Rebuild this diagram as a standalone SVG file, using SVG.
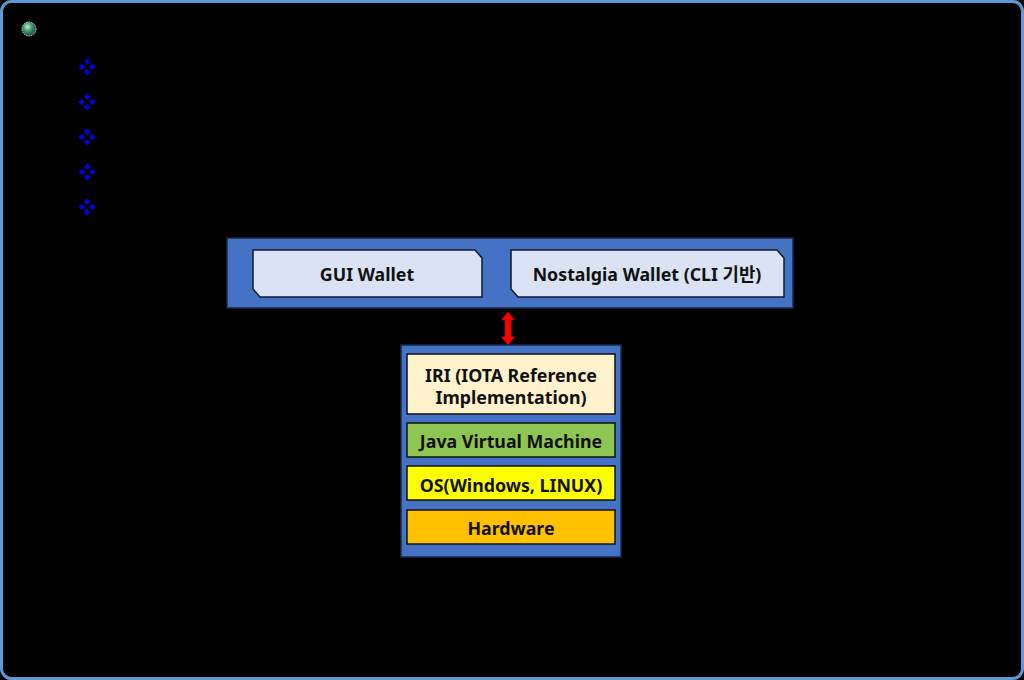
<svg xmlns="http://www.w3.org/2000/svg" width="1024" height="680" viewBox="0 0 1024 680">
<defs>
<style>
.lbl{font-family:"Noto Sans","Noto Sans CJK KR",sans-serif;font-weight:bold;font-size:17.8px;fill:#111;text-anchor:middle;dominant-baseline:central}
.panel{fill:#4472C4;stroke:#1a2a4a;stroke-width:1.5}
.wallet{fill:#DAE3F3;stroke:#0f1a30;stroke-width:1.5}
.layer{stroke:#111;stroke-width:1.5}
.dia{fill:#0000E0}
</style>
<radialGradient id="ball" cx="0.4" cy="0.35" r="0.7">
<stop offset="0" stop-color="#b8f0d0"/>
<stop offset="0.5" stop-color="#3a8a6a"/>
<stop offset="1" stop-color="#1d4a38"/>
</radialGradient>
<g id="fd">
<polygon class="dia" points="0,-8.5 3.2,-5.3 0,-2.1 -3.2,-5.3"/>
<polygon class="dia" points="0,8.5 3.2,5.3 0,2.1 -3.2,5.3"/>
<polygon class="dia" points="-8.5,0 -5.3,-3.2 -2.1,0 -5.3,3.2"/>
<polygon class="dia" points="8.5,0 5.3,-3.2 2.1,0 5.3,3.2"/>
</g>
</defs>
<rect x="0" y="0" width="1024" height="680" fill="#000"/>
<rect x="1.5" y="1.5" width="1021" height="677" rx="10" fill="#000" stroke="#5B9BD5" stroke-width="3"/>
<g id="bullets">
<circle cx="29" cy="29" r="7" fill="url(#ball)" stroke="#cfd8c8" stroke-width="1" stroke-dasharray="1.5 1"/>
<use href="#fd" x="87" y="67"/>
<use href="#fd" x="87" y="102"/>
<use href="#fd" x="87" y="137"/>
<use href="#fd" x="87" y="172"/>
<use href="#fd" x="87" y="207"/>
</g>
<g id="wallet-panel">
<rect class="panel" x="227" y="238" width="566" height="70"/>
</g>
<g id="gui-wallet">
<polygon class="wallet" points="253,250 475,250 482,258 482,297 260,297 253,289"/>
<text class="lbl" x="367" y="274">GUI Wallet</text>
</g>
<g id="nostalgia-wallet">
<polygon class="wallet" points="511,250 777,250 784,258 784,297 518,297 511,289"/>
<text class="lbl" x="647" y="274">Nostalgia Wallet (CLI 기반)</text>
</g>
<g id="connectors">
<polygon points="508,312 514.5,320 511,320 511,337 514.5,337 508,345 501.5,337 505,337 505,320 501.5,320" fill="#FF0000" stroke="#c00000" stroke-width="0.5"/>
</g>
<g id="stack-panel">
<rect class="panel" x="401" y="345" width="220" height="212"/>
</g>
<g id="iri">
<rect class="layer" x="407" y="354" width="208" height="60" fill="#FFF2CC"/>
<text class="lbl" x="511" y="375">IRI (IOTA Reference</text>
<text class="lbl" x="511" y="397">Implementation)</text>
</g>
<g id="jvm">
<rect class="layer" x="407" y="423" width="208" height="34" fill="#8FC651"/>
<text class="lbl" x="511" y="441">Java Virtual Machine</text>
</g>
<g id="os">
<rect class="layer" x="407" y="466" width="208" height="34" fill="#FFFF00"/>
<text class="lbl" x="511" y="485">OS(Windows, LINUX)</text>
</g>
<g id="hardware">
<rect class="layer" x="407" y="510" width="208" height="34" fill="#FFC000"/>
<text class="lbl" x="511" y="528">Hardware</text>
</g>
</svg>
